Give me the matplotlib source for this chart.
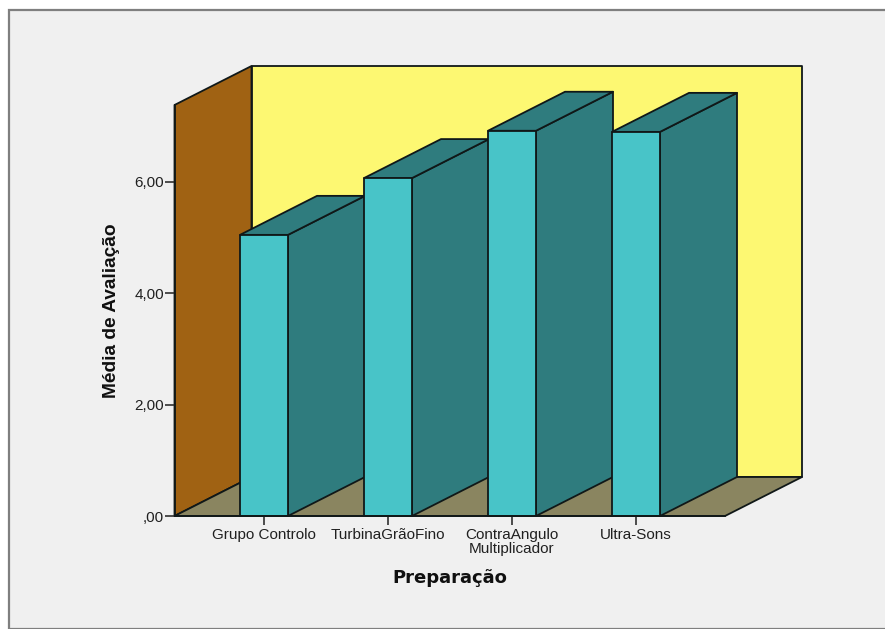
import matplotlib
matplotlib.use("Agg")
import matplotlib.pyplot as plt
from matplotlib.patches import Polygon, Rectangle

categories = ["Grupo Controlo", "TurbinaGrãoFino", "ContraAngulo\nMultiplicador", "Ultra-Sons"]
values = [5.05, 6.07, 6.92, 6.90]
y_ticks = [0, 2, 4, 6]
y_tick_labels = [",00", "2,00", "4,00", "6,00"]

W, H = 885, 629
plt.rcParams["font.family"] = ["Liberation Sans", "DejaVu Sans"]
fig = plt.figure(figsize=(W / 100, H / 100), dpi=100, facecolor="white")

# panel background with grey frame
fig.add_artist(Rectangle((9 / W, 0), 1, 1 - 10 / H, transform=fig.transFigure,
                         facecolor="#F0F0F0", edgecolor="#7F7F7F", linewidth=1.6, zorder=-1))

# axes: front plane of the 3D box
L, R, T, B = 174.5, 725, 105, 516
ax = fig.add_axes([L / W, 1 - B / H, (R - L) / W, (B - T) / H])
ax.patch.set_visible(False)
sx = 124.0            # px per category
sy = 55.67            # px per unit
x0 = (L - 264) / sx
ax.set_xlim(x0, x0 + (R - L) / sx)
ax.set_ylim(0, (B - T) / sy)
dx = 77 / sx
dy = 39 / sy
bw = 48 / sx
xmin, xmax = ax.get_xlim()
ymax = ax.get_ylim()[1]

EDGE = "#101818"
def poly(pts, fc, z, lw=1.3):
    ax.add_patch(Polygon(pts, closed=True, facecolor=fc, edgecolor=EDGE, linewidth=lw,
                         joinstyle="round", clip_on=False, zorder=z))

poly([(xmin, 0), (xmin + dx, dy), (xmin + dx, ymax + dy), (xmin, ymax)], "#A06213", 1)
poly([(xmin + dx, dy), (xmax + dx, dy), (xmax + dx, ymax + dy), (xmin + dx, ymax + dy)], "#FDF872", 1)
poly([(xmin, 0), (xmax, 0), (xmax + dx, dy), (xmin + dx, dy)], "#8A8560", 1.5)

for i, v in enumerate(values):
    l, r = i - bw / 2, i + bw / 2
    z = 2 + i * 0.1
    poly([(r, 0), (r + dx, dy), (r + dx, v + dy), (r, v)], "#2F7C7E", z)
    poly([(l, v), (r, v), (r + dx, v + dy), (l + dx, v + dy)], "#2F7C7E", z)
    poly([(l, 0), (r, 0), (r, v), (l, v)], "#48C4C8", z + 0.01)

for s in ("top", "right"):
    ax.spines[s].set_visible(False)
for s in ("left", "bottom"):
    ax.spines[s].set_linewidth(1.3)
    ax.spines[s].set_color(EDGE)
    ax.spines[s].set_zorder(5)

ax.set_xticks(range(len(categories)))
ax.set_xticklabels(categories, fontsize=11, color="#202020", linespacing=1.0)
ax.set_yticks(y_ticks)
ax.set_yticklabels(y_tick_labels, fontsize=11, color="#202020")
ax.tick_params(axis="x", length=6.5, width=1.2, color="#303030", pad=2)
ax.tick_params(axis="y", length=7, width=1.2, color="#303030", pad=0.5)

fig.text(112 / W, 1 - 311 / H, "Média de Avaliação", rotation=90, ha="center", va="center",
         fontsize=13.8, fontweight="bold", color="#101010")
fig.text(450 / W, 1 - 578 / H, "Preparação", ha="center", va="center",
         fontsize=13, fontweight="bold", color="#101010", family="DejaVu Sans")

fig.savefig("out.png", dpi=100, facecolor="white")
